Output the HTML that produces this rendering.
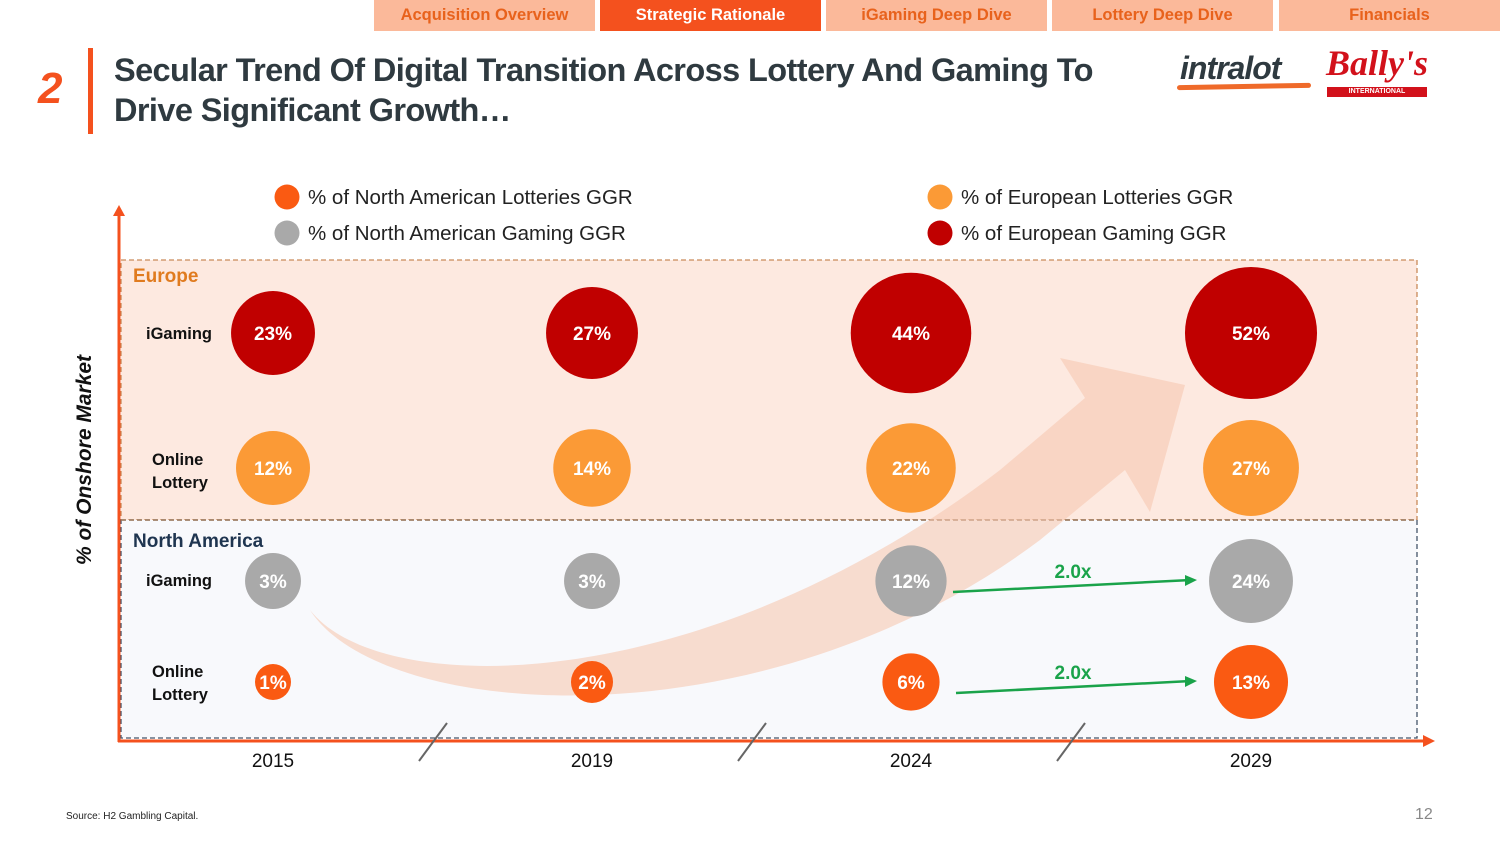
<!DOCTYPE html>
<html><head><meta charset="utf-8">
<style>
html,body{margin:0;padding:0;background:#fff;width:1500px;height:843px;overflow:hidden;font-family:"Liberation Sans","DejaVu Sans",sans-serif;}
.tab{position:absolute;top:0;height:31px;width:221px;background:#fbb99a;color:#e8621c;font-weight:bold;font-size:16.5px;text-align:center;line-height:31px;}
.tab.active{background:#f4511e;color:#fff;}
</style></head><body>
<div class="tab" style="left:374px">Acquisition Overview</div>
<div class="tab active" style="left:600px">Strategic Rationale</div>
<div class="tab" style="left:826px">iGaming Deep Dive</div>
<div class="tab" style="left:1052px">Lottery Deep Dive</div>
<div class="tab" style="left:1279px;width:221px">Financials</div>

<div style="position:absolute;left:38px;top:64px;font-size:44px;font-weight:bold;font-style:italic;color:#f4511e;">2</div>
<div style="position:absolute;left:88px;top:48px;width:5px;height:86px;background:#f4511e;"></div>
<div style="position:absolute;left:114px;top:50px;font-size:32.5px;font-weight:bold;color:#2f3a40;line-height:40px;letter-spacing:-0.6px;">Secular Trend Of Digital Transition Across Lottery And Gaming To<br>Drive Significant Growth…</div>

<div style="position:absolute;left:1180px;top:50px;font-size:32px;font-weight:bold;font-style:italic;color:#2f3a40;letter-spacing:-1px;">intralot</div>
<div style="position:absolute;left:1177px;top:84px;width:134px;height:5px;background:#ef6a2a;border-radius:3px;transform:skewY(-1deg);"></div>
<div style="position:absolute;left:1326px;top:42px;font-size:36px;font-style:italic;font-family:'Liberation Serif',serif;color:#d2111b;font-weight:bold;">Bally's</div>
<div style="position:absolute;left:1327px;top:87px;width:100px;height:10px;background:#d2111b;color:#fff;font-size:7px;font-weight:bold;text-align:center;line-height:10px;">INTERNATIONAL INTERACTIVE</div>

<svg id="chart" width="1500" height="843" style="position:absolute;left:0;top:0"></svg>

<div style="position:absolute;left:66px;top:811px;font-size:10px;color:#222;">Source: H2 Gambling Capital.</div>
<div style="position:absolute;left:1415px;top:806px;font-size:16px;color:#888;">12</div>

<script>
const years = ["2015","2019","2024","2029"];
const euIgaming = [23,27,44,52];
const euLottery = [12,14,22,27];
const naIgaming = [3,3,12,24];
const naLottery = [1,2,6,13];
const growthLabels = ["2.0x","2.0x"];

const NS="http://www.w3.org/2000/svg";
const svg=document.getElementById('chart');
function mk(tag,attrs,parent){const e=document.createElementNS(NS,tag);for(const k in attrs)e.setAttribute(k,attrs[k]);(parent||svg).appendChild(e);return e;}
const xPos=i=>[273,592,911,1251][i];
function xScale(i){return xPos(i);}

let e;
e=mk('rect',{x:121,y:260,width:1296,height:260,fill:'#fde9e0',stroke:'#c98a5a','stroke-dasharray':'5,3','stroke-width':1.3});

e=mk('rect',{x:121,y:520,width:1296,height:218,fill:'#f8f9fc',stroke:'#44546a','stroke-dasharray':'5,3','stroke-width':1.3});

e=mk('line',{x1:121,y1:520,x2:1417,y2:520,stroke:'#a07a5a','stroke-dasharray':'5,3','stroke-width':1.5});


e=mk('path',{d:'M310,610 C380,700 700,700 1000,470 L1085,398 L1060,358 L1185,385 L1150,512 L1125,470 L1040,540 C760,750 380,720 310,610 Z',fill:'#f7c8b0',opacity:0.6});


e=mk('line',{x1:119,y1:742,x2:119,y2:214,stroke:'#f4511e','stroke-width':3});
e=mk('path',{d:'M113,216 L119,205 L125,216 Z',fill:'#f4511e'});
e=mk('line',{x1:118,y1:741,x2:1425,y2:741,stroke:'#f4511e','stroke-width':3});
e=mk('path',{d:'M1423,735 L1435,741 L1423,747 Z',fill:'#f4511e'});
[433,752,1071].forEach(x=>{const l=mk('line',{x1:x-14,y1:761,x2:x+14,y2:723,stroke:'#666','stroke-width':2});

});

e=mk('text',{x:91,y:460,transform:'rotate(-90 91 460)','text-anchor':'middle','font-size':21,'font-weight':'bold','font-style':'italic',fill:'#111'});
e.textContent='% of Onshore Market';

years.forEach((y,i)=>{const t=mk('text',{x:xScale(i),y:767,'text-anchor':'middle','font-size':19,fill:'#111'});t.textContent=y;

});

e=mk('text',{x:133,y:282,'font-size':19,'font-weight':'bold',fill:'#e07b1f'});e.textContent='Europe';
e=mk('text',{x:133,y:547,'font-size':19,'font-weight':'bold',fill:'#1f3550'});e.textContent='North America';

function rowLabel(lines,y,name){lines.forEach((s,k)=>{const t=mk('text',{x:lines.length>1?152:146,y:y+k*23,'font-size':16.5,'font-weight':'bold',fill:'#111'});t.textContent=s;

});}
rowLabel(['iGaming'],339,'row-label-eu-igaming');
rowLabel(['Online','Lottery'],465,'row-label-eu-lottery');
rowLabel(['iGaming'],586,'row-label-na-igaming');
rowLabel(['Online','Lottery'],677,'row-label-na-lottery');

const rows=[
 {vals:euIgaming,y:333,color:'#c00000',r0:-5.8,k:9.96,name:'eu-igaming'},
 {vals:euLottery,y:468,color:'#fb9a36',r0:15.1,k:6.32,name:'eu-lottery'},
 {vals:naIgaming,y:581,color:'#a9a9a9',r0:20.3,k:4.42,name:'na-igaming'},
 {vals:naLottery,y:682,color:'#fa5a12',r0:10.7,k:7.3,name:'na-lottery'}];
rows.forEach(row=>{row.vals.forEach((v,i)=>{
 const r=Math.max(14,row.r0+row.k*Math.sqrt(v));
 const c=mk('circle',{cx:xScale(i),cy:row.y,r:r,fill:row.color});
 
 
 const t=mk('text',{x:xScale(i),y:row.y+7,'text-anchor':'middle','font-size':19,'font-weight':'bold',fill:'#fff'});
 t.textContent=v+'%';
 
 
});});

[[581,0,953],[682,1,956]].forEach(([y,gi,x1])=>{
 const x2=xScale(3)-56;
 const l=mk('line',{x1:x1,y1:y+11,x2:x2-4,y2:y-1,stroke:'#1aa34a','stroke-width':2.5});
 
 
 const h=mk('path',{d:`M${x2-10},${y-6} L${x2+2},${y-1} L${x2-10},${y+5} Z`,fill:'#1aa34a'});
 
 
 const t=mk('text',{x:(xScale(2)+xScale(3))/2-8,y:y-3,'text-anchor':'middle','font-size':19,'font-weight':'bold',fill:'#1aa34a'});
 t.textContent=growthLabels[gi];
 
 
});

const legend=[[287,197,'#fa5a12','% of North American Lotteries GGR'],[287,233,'#a9a9a9','% of North American Gaming GGR'],
 [940,197,'#fb9a36','% of European Lotteries GGR'],[940,233,'#c00000','% of European Gaming GGR']];
legend.forEach(([x,y,c,s])=>{
 const ci=mk('circle',{cx:x,cy:y,r:12.5,fill:c});
 
 
 const t=mk('text',{x:x+21,y:y+7,'font-size':20.5,fill:'#222'});t.textContent=s;
 
 
});
</script>
</body></html>
